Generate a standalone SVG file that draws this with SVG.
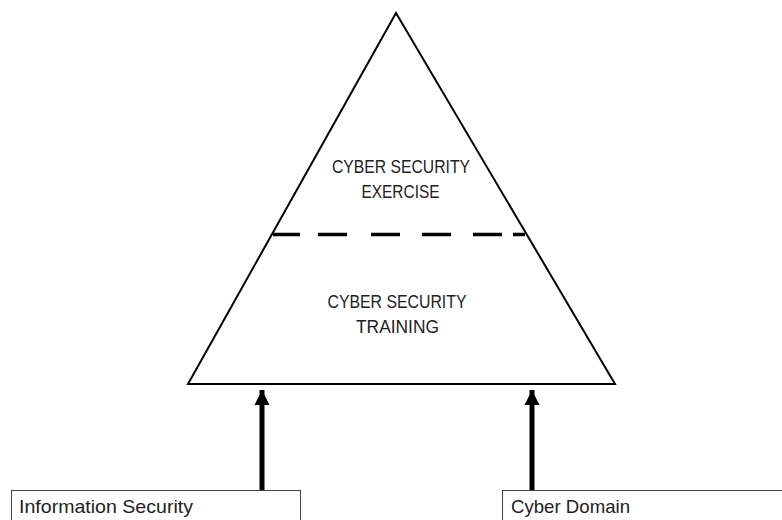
<svg xmlns="http://www.w3.org/2000/svg" width="782" height="520" viewBox="0 0 782 520">
<style>
.lbl{font-family:"Liberation Sans",Arial,sans-serif;font-size:19px;fill:#222}
.box{fill:#fff;stroke:#444;stroke-width:1}
.tri{fill:#fff;stroke:#000;stroke-width:2;stroke-linejoin:miter}
.shaft{stroke:#000;stroke-width:5}
</style>
<defs>
<marker id="ah" markerUnits="userSpaceOnUse" markerWidth="16" markerHeight="16" viewBox="0 0 16 16" refX="8" refY="0" orient="0" overflow="visible">
<path d="M8 0 L15.5 15 L0.5 15 Z" fill="#000"/>
</marker>
</defs>
<rect width="782" height="520" fill="#fff"/>
<g id="pyramid">
<polygon class="tri" points="396,13 188,384 615,384"/>
<path d="M273 234.5 H300 M318 234.5 H347 M371 234.5 H400 M422 234.5 H451 M473 234.5 H502 M513 234.5 H525" stroke="#000" stroke-width="3.5" fill="none"/>
</g>
<g id="exercise">
<text class="lbl" x="401" y="173" text-anchor="middle" textLength="138" lengthAdjust="spacingAndGlyphs">CYBER SECURITY</text>
<text class="lbl" x="400.5" y="198" text-anchor="middle" textLength="78" lengthAdjust="spacingAndGlyphs">EXERCISE</text>
</g>
<g id="training">
<text class="lbl" x="397" y="308" text-anchor="middle" textLength="139" lengthAdjust="spacingAndGlyphs">CYBER SECURITY</text>
<text class="lbl" x="397.5" y="333" text-anchor="middle" textLength="83" lengthAdjust="spacingAndGlyphs">TRAINING</text>
</g>
<g id="connectors">
<line class="shaft" x1="262" y1="490" x2="262" y2="390" marker-end="url(#ah)"/>
<line class="shaft" x1="532" y1="490" x2="532" y2="390" marker-end="url(#ah)"/>
</g>
<g id="info-security">
<rect class="box" x="11.5" y="490.5" width="289" height="40"/>
<text class="lbl" x="19" y="513" textLength="174" lengthAdjust="spacingAndGlyphs">Information Security</text>
</g>
<g id="cyber-domain">
<rect class="box" x="502.5" y="490.5" width="290" height="40"/>
<text class="lbl" x="511" y="513" textLength="119" lengthAdjust="spacingAndGlyphs">Cyber Domain</text>
</g>
</svg>
